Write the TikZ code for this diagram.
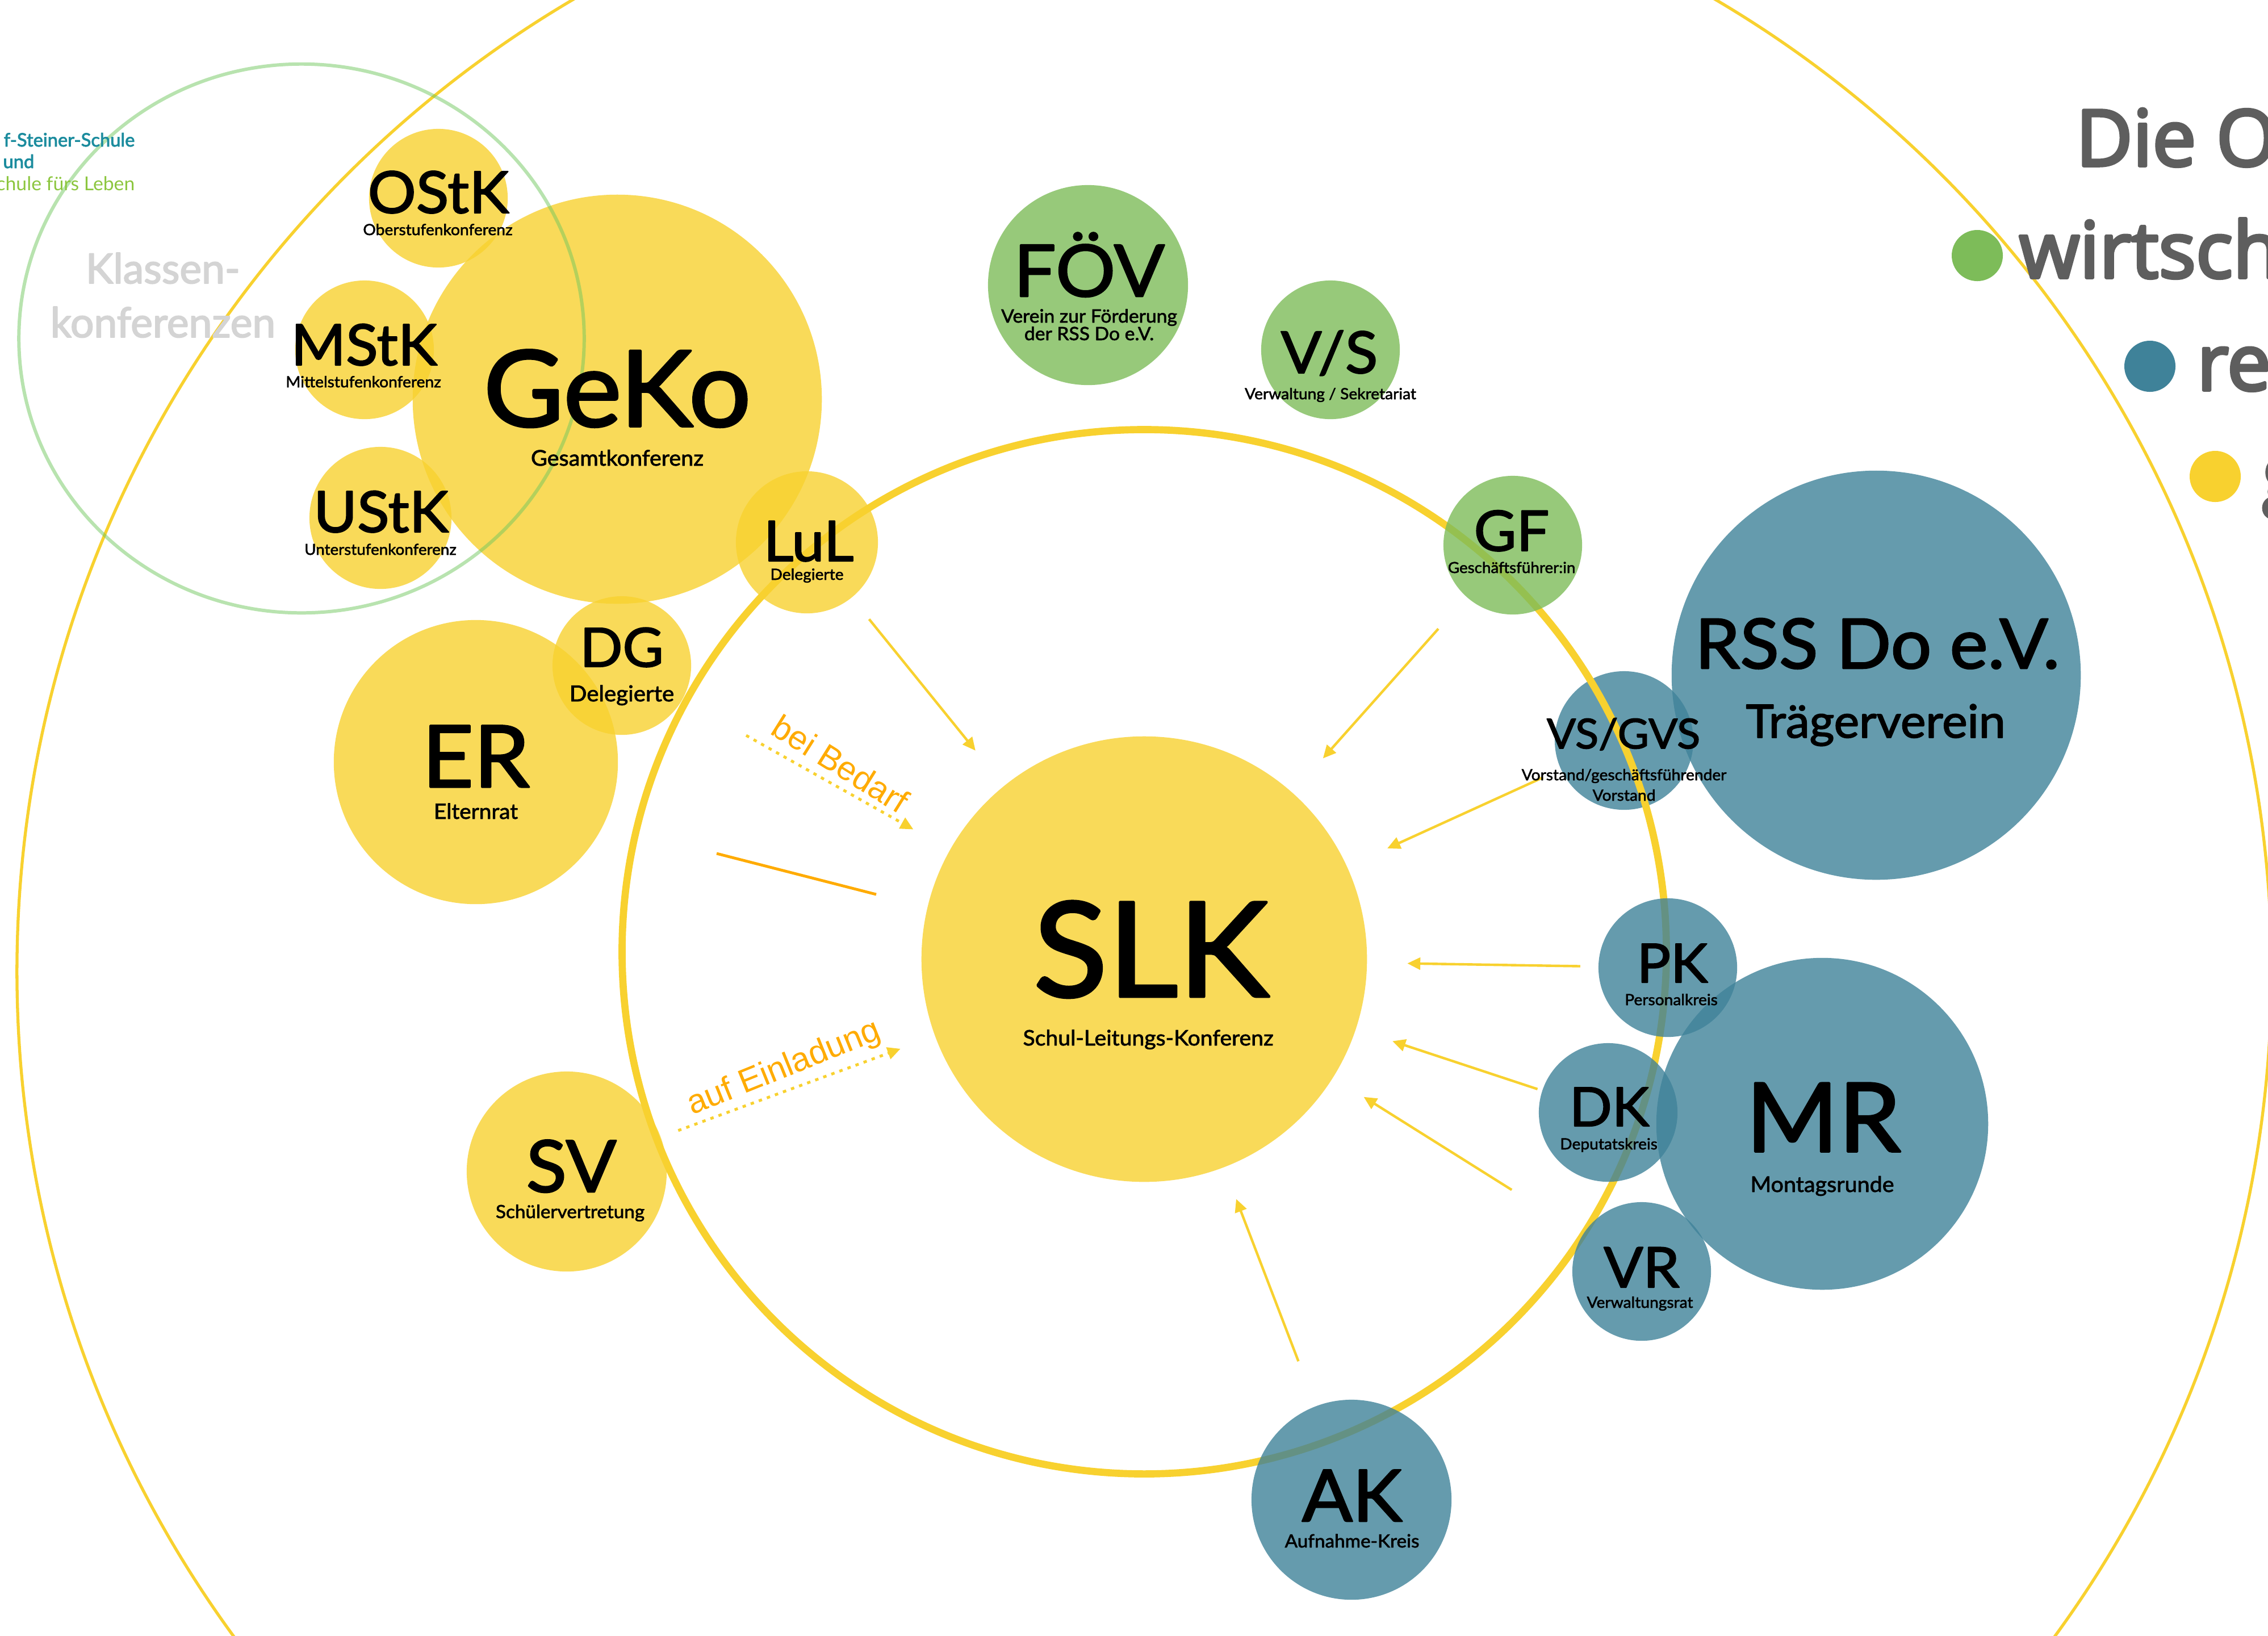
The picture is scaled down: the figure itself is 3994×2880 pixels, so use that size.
\documentclass[tikz,border=0pt]{standalone}
\usepackage{fontspec}
\setmainfont{Lato}[FakeBold=2.1,FakeStretch=1.04]
\newfontfamily\legendfont{Open Sans}[FakeBold=4]
\newfontfamily\logofont{Lato}[FakeBold=2.5]
\newfontfamily\logolight{Lato}
\newfontfamily\klassenfont{Lato}[FakeBold=2.6]
\newfontfamily\hinweisfont{Liberation Sans}
\usetikzlibrary{arrows.meta,shapes.geometric}
\definecolor{gelb}{HTML}{F8D12F}
\definecolor{blau}{HTML}{3F8299}
\definecolor{gruen}{HTML}{7DBC59}
\definecolor{orange}{HTML}{FFAB00}
\definecolor{ringgruen}{HTML}{72C85F}
\definecolor{logoblau}{HTML}{1C8C9E}
\definecolor{logogruen}{HTML}{8CC63F}
\tikzset{
	kreis/.style={circle, inner sep=0pt, outer sep=0pt, fill opacity=.8},
	ring/.style={circle, inner sep=0pt, outer sep=0pt, draw},
	pfeil/.style={draw=gelb, line width=1.25pt, -{Triangle[length=6.5pt,width=6pt]}},
	punktpfeil/.style={pfeil, line width=1.4pt, dash pattern=on 1.7pt off 2.6pt},
	hinweis/.style={text=orange, font=\hinweisfont\fontsize{16.8}{18}\selectfont},
	legende/.style={anchor=base west, inner sep=0pt, text=black!63, font=\legendfont\fontsize{39}{39}\selectfont},
	logo/.style={anchor=base east, inner sep=0pt}
}
\begin{document}
\begin{tikzpicture}[x=0.01cm, y=-0.01cm, line join=round, >=stealth]
	\path[use as bounding box, clip] (0,0) rectangle (3994,2880);
	% rings and the circle lying under the middle ring
	\node[ring, draw=gelb, line width=1.5pt, minimum size=39.68cm] (aussen) at (2015,1711) {};
	\node[kreis, fill=blau, minimum size=2.44cm] (VSGVS) at (2860,1304) {};
	\node[ring, draw=gelb, line width=3.6pt, minimum size=18.38cm] (mitte) at (2015,1676) {};
	% gremien
	\foreach \name/\x/\y/\r/\farbe in {
		GeKo/1087/703/360/gelb, OStK/772/349/122/gelb, MStK/642/616/122/gelb,
		UStK/670/912/125/gelb, LuL/1421/955/125/gelb, DG/1095/1172/122/gelb,
		ER/838/1342/250/gelb, SV/998/2063/176/gelb, SLK/2015/1689/392/gelb,
		FOEV/1916/502/176/gruen, VS/2343/616/122/gruen, GF/2664/960/122/gruen,
		RSS/3304/1189/360/blau, PK/2937/1704/122/blau, MR/3209/1979/292/blau,
		DK/2832/1959/122/blau, VR/2891/2239/122/blau, AK/2380/2641/176/blau}
		\node[kreis, fill=\farbe, minimum size=\r*0.02cm] (\name) at (\x,\y) {};
	\node[ellipse, draw=ringgruen, draw opacity=.5, inner sep=0pt, outer sep=0pt, line width=1.7pt, minimum width=9.95cm, minimum height=9.66cm] (klassen) at (531,596) {};
	% pfeile zur SLK
	\foreach \von/\kurz/\ende in {LuL/0.49/0.80, GF/0.75/0.81, VSGVS/0.35/0.78, PK/0.32/0.71,
		DK/0.09/0.68, VR/1.48/0.64, AK/0.85/0.60}
		\draw[pfeil, shorten <=\kurz cm, shorten >=\ende cm] (\von) -- (SLK);
	\draw[punktpfeil, shorten <=1.29cm, shorten >=0.74cm] (DG) -- (SLK);
	\draw[punktpfeil, shorten <=0.33cm, shorten >=0.65cm] (SV) -- (SLK);
	\coordinate (strichA) at (1262,1503);
	\coordinate (strichB) at (1543,1575);
	\draw[orange, line width=1.4pt] (strichA) -- (strichB);
	\node[hinweis, rotate=-32] (bedarf) at (1480,1345) {bei Bedarf};
	\node[hinweis, rotate=22] (einladung) at (1381,1882) {auf Einladung};
	% kuerzel
	\foreach \name/\x/\y/\s/\txt in {
		SLK/2027/1755/66/SLK, GeKo/1087/751/53/GeKo, OStK/772/375/29/OStK, MStK/641/643/28.5/MStK,
		UStK/671/937/28.5/UStK, LuL/1424/988/28/LuL, DG/1095/1174/27/DG, ER/838/1386/43/ER,
		SV/1006/2099/36/SV, FOEV/1918/522/36/FÖV, VS/2341/657/29/{V/S}, GF/2662/970/28/GF,
		VSGVS/2859/1318/20.7/{VS/GVS}, RSS/3306/1177/34.6/{RSS Do e.V.}, Traeger/3303/1299/23/Trägerverein,
		PK/2945/1730/27/PK, DK/2834/1983/27/DK, MR/3211/2028/48/MR, VR/2891/2267/28/VR, AK/2381/2679/36/AK}
		\node[anchor=base, font=\fontsize{\s}{\s}\selectfont] (t\name) at (\x,\y) {\txt};
	% langnamen
	\foreach \name/\x/\y/\s/\txt in {
		SLK/2022/1841/10.7/Schul-Leitungs-Konferenz, GeKo/1087/820/10.8/Gesamtkonferenz,
		OStK/771/414/7.7/Oberstufenkonferenz, MStK/640/682/7.7/Mittelstufenkonferenz,
		UStK/670/977/7.6/Unterstufenkonferenz, LuL/1421/1021/7.7/Delegierte, DG/1095/1235/11/Delegierte,
		ER/838/1442/10.6/Elternrat, SV/1004/2145/9.1/Schülervertretung,
		FOEVa/1918/568/9.2/Verein zur Förderung, FOEVb/1918/599/9.2/der RSS Do e.V.,
		VS/2343/703/7.7/{Verwaltung / Sekretariat}, GF/2662/1009/7.6/Geschäftsführer:in,
		VSGVSa/2860/1374/7.7/{Vorstand/geschäftsführender}, VSGVSb/2860/1410/7.7/Vorstand,
		PK/2943/1770/7.7/Personalkreis, DK/2833/2024/7.7/Deputatskreis, MR/3209/2099/10.8/Montagsrunde,
		VR/2888/2303/7.7/Verwaltungsrat, AK/2381/2725/9.1/Aufnahme-Kreis}
		\node[anchor=base, font=\fontsize{\s}{\s}\selectfont] (s\name) at (\x,\y) {\txt};
	\node[anchor=base, text=black!17, font=\klassenfont\fontsize{20.8}{21}\selectfont] (klasseneins) at (287,499) {Klassen-};
	\node[anchor=base, text=black!17, font=\klassenfont\fontsize{20.8}{21}\selectfont] (klassenzwei) at (287,594) {konferenzen};
	% legende
	\foreach \name/\x/\y/\farbe in {lgruen/3482/450/gruen, lblau/3786/645/blau, lgelb/3901/839/gelb}
		\node[circle, inner sep=0pt, fill=\farbe, minimum size=0.9cm] (\name) at (\x,\y) {};
	\node[legende] (die) at (3655,292) {Die O};
	\node[legende] (wirt) at (3555,489) {wirtsch};
	\node[legende] (rech) at (3868,687) {re};
	\node[legende] (geis) at (3983,882) {g};
	% logo
	\node[logo, text=logoblau, font=\logofont\fontsize{9.3}{10}\selectfont] (logoa) at (238,258) {f-Steiner-Schule};
	\node[logo, text=logoblau, font=\logofont\fontsize{9.3}{10}\selectfont] (logob) at (61,296) {und};
	\node[logo, text=logogruen, font=\logolight\fontsize{9.6}{10}\selectfont] (logoc) at (238,335) {chule fürs Leben};
\end{tikzpicture}
\end{document}
